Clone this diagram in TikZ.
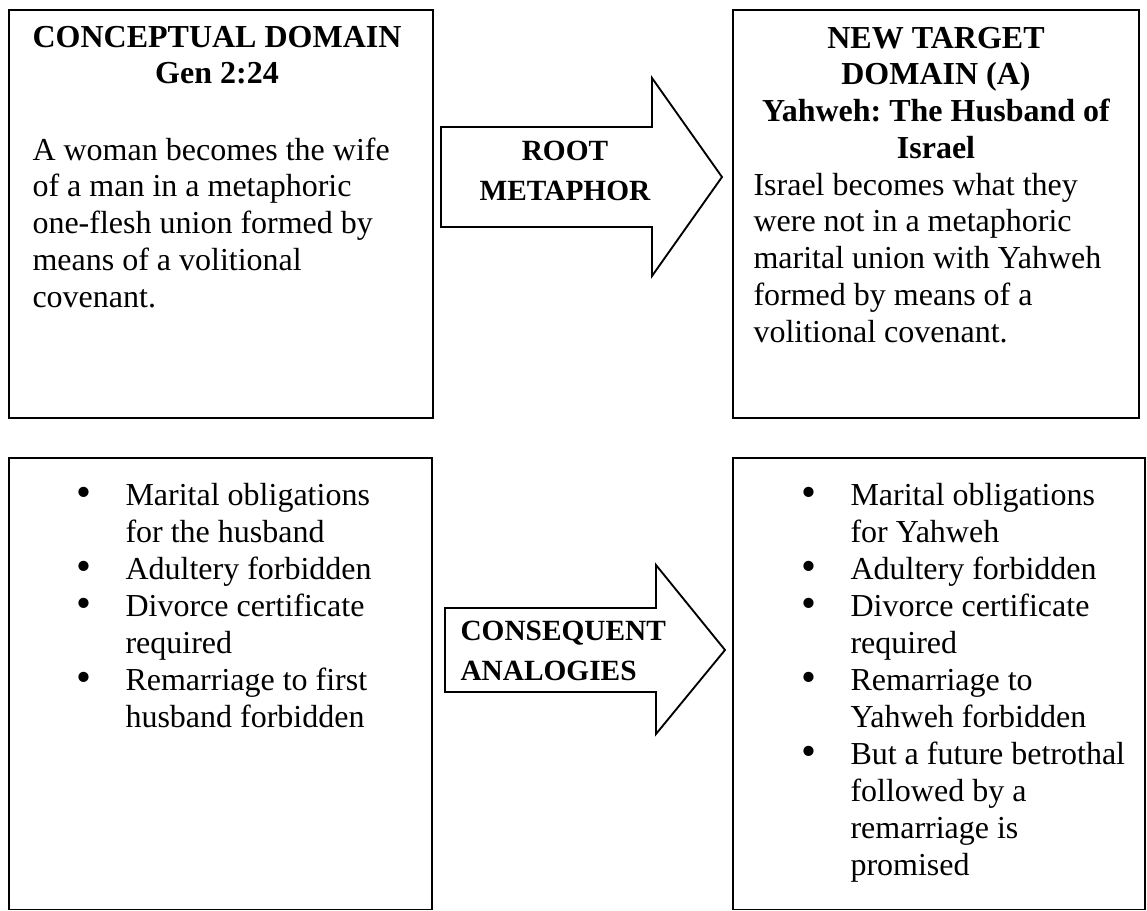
\documentclass[tikz,border=0pt]{standalone}
\usepackage{fontspec}
\setmainfont{Liberation Serif}
\usetikzlibrary{fit}
\frenchspacing
% bullet hung in the left margin of a list item
\newcommand{\bulitem}{\leavevmode\llap{\makebox[0pt][c]{\smash{\raisebox{-0.5pt}{\fontsize{16pt}{16pt}\selectfont\textbullet}}}\hspace{15.75pt}}}
\begin{document}
\begin{tikzpicture}[x=0.375pt, y=-0.375pt,
  domainbox/.style={draw, line width=0.6pt, inner sep=0pt},
  blockarrow/.style={draw, line width=0.7pt, line join=miter},
  bodytext/.style={inner sep=0pt, anchor=base west, font=\fontsize{12pt}{13.8pt}\selectfont},
  headtext/.style={inner sep=0pt, anchor=base, font=\fontsize{12pt}{13.8pt}\selectfont\bfseries},
  listtext/.style={inner sep=0pt, anchor=base west, font=\fontsize{12pt}{13.9pt}\selectfont},
  arrowtext/.style={inner sep=0pt, font=\fontsize{11pt}{15pt}\selectfont\bfseries}]
\useasboundingbox (0,0) rectangle (1147,911);

% the four domain boxes
\node[domainbox, fit={(9,10) (433,418)}] (src) {};
\node[domainbox, fit={(733,10) (1139,418)}] (tgt) {};
\node[domainbox, fit={(9,458) (432,909.5)}] (srclist) {};
\node[domainbox, fit={(733,458) (1145,909.5)}] (tgtlist) {};

% block arrows
\draw[blockarrow] (441,127) -- (652,127) -- (652,78) -- (722,177)
  -- (652,276) -- (652,227) -- (441,227) -- cycle;
\draw[blockarrow] (445,608) -- (656,608) -- (656,565) -- (725,650)
  -- (656,734) -- (656,692) -- (445,692) -- cycle;

% arrow labels
\node[arrowtext, anchor=base] (root) at (565,160)
  {\parbox[t]{80pt}{\centering ROOT\\METAPHOR}};
\node[arrowtext, anchor=base west] (cons) at (460,640)
  {\parbox[t]{90pt}{\raggedright CONSEQUENT\\ANALOGIES}};

% conceptual domain
\node[headtext] (srchead) at (217,47)
  {\parbox[t]{150pt}{\centering CONCEPTUAL DOMAIN\\Gen 2:24}};
\node[bodytext] (srcbody) at (32,160)
  {\parbox[t]{150pt}{\raggedright A woman becomes the wife\\
   of a man in a metaphoric\\ one-flesh union formed by\\
   means of a volitional\\ covenant.}};

% new target domain
\node[headtext] (tgthead) at (936,48)
  {\parbox[t]{150pt}{\centering NEW TARGET\\DOMAIN (A)\\Yahweh: The Husband of\\Israel}};
\node[bodytext] (tgtbody) at (753,195)
  {\parbox[t]{150pt}{\raggedright Israel becomes what they\\
   were not in a metaphoric\\ marital union with Yahweh\\
   formed by means of a\\ volitional covenant.}};

% consequent analogies
\node[listtext] (srcitems) at (125,505)
  {\parbox[t]{140pt}{\raggedright
   \bulitem Marital obligations\\ for the husband\par
   \bulitem Adultery forbidden\par
   \bulitem Divorce certificate\\ required\par
   \bulitem Remarriage to first\\ husband forbidden}};
\node[listtext] (tgtitems) at (850,505)
  {\parbox[t]{140pt}{\raggedright
   \bulitem Marital obligations\\ for Yahweh\par
   \bulitem Adultery forbidden\par
   \bulitem Divorce certificate\\ required\par
   \bulitem Remarriage to\\ Yahweh forbidden\par
   \bulitem But a future betrothal\\ followed by a\\ remarriage is\\ promised}};
\end{tikzpicture}
\end{document}
